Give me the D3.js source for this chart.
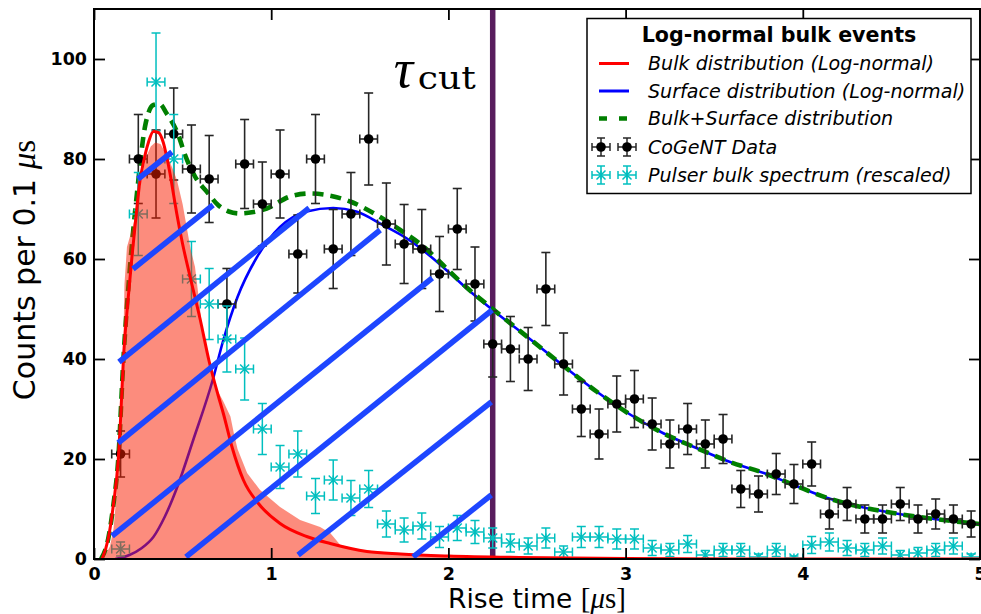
<!DOCTYPE html>
<html>
<head>
<meta charset="utf-8">
<script src="https://cdn.jsdelivr.net/npm/d3@7"></script>
<style>
  html, body { margin: 0; padding: 0; background: #fff; }
  svg { display: block; }
</style>
</head>
<body>
<div id="chart"></div>
<script>
// =========================================================
//  CoGeNT rise-time spectrum — bulk / surface log-normal fit
// =========================================================

// bin centres (rise time, µs) shared by both measured series
const binX = [0.15, 0.25, 0.35, 0.45, 0.55, 0.65, 0.75, 0.85, 0.95, 1.05,
  1.15, 1.25, 1.35, 1.45, 1.55, 1.65, 1.75, 1.85, 1.95, 2.05,
  2.15, 2.25, 2.35, 2.45, 2.55, 2.65, 2.75, 2.85, 2.95, 3.05,
  3.15, 3.25, 3.35, 3.45, 3.55, 3.65, 3.75, 3.85, 3.95, 4.05,
  4.15, 4.25, 4.35, 4.45, 4.55, 4.65, 4.75, 4.85, 4.95];
const binHalf = 0.05;

// CoGeNT data (counts per 0.1 µs) and errors
const cogentY = [21, 80, 77, 85, 78, 76, 51, 79, 71, 77,
  61, 80, 62, 69, 84, 67, 63, 62, 57, 66,
  55, 43, 42, 40, 54, 39, 30, 25, 31, 32,
  27, 23, 26, 23, 24, 14, 13, 17, 15, 19,
  9, 11, 8, 8, 11, 8, 9, 8, 7];
const cogentErr = [4.6, 8.9, 8.8, 9.2, 8.8, 8.7, 7.1, 8.9, 8.4, 8.8,
  7.8, 8.9, 7.9, 8.3, 9.2, 8.2, 7.9, 7.9, 7.5, 8.1,
  7.4, 6.6, 6.5, 6.3, 7.3, 6.2, 5.5, 5.0, 5.6, 5.7,
  5.2, 4.8, 5.1, 4.8, 4.9, 3.7, 3.6, 4.1, 3.9, 4.4,
  3.0, 3.3, 2.8, 2.8, 3.3, 2.8, 3.0, 2.8, 2.6];

// pulser bulk spectrum (rescaled)
const pulserY = [2, 69, 95.4, 80, 56, 51, 44, 38, 26, 18.4,
  21, 12.6, 15.8, 12.2, 14, 7, 5.8, 6.6, 4.4, 6.2,
  5.4, 4.2, 3.2, 2.6, 4.2, 1.4, 4.4, 4.4, 4, 4,
  2.2, 1.8, 3, 0.8, 1.8, 1.8, 0.4, 1.8, 0.2, 2.8,
  3.4, 2.2, 1.8, 2.6, 0.8, 1.2, 1.8, 2.6, 0.4];
const pulserErr = [1.4, 8.3, 9.8, 8.9, 7.5, 7.1, 6.6, 6.2, 5.1, 4.3,
  4.6, 3.5, 4.0, 3.5, 3.7, 2.6, 2.4, 2.6, 2.1, 2.5,
  2.3, 2.0, 1.8, 1.6, 2.0, 1.2, 2.1, 2.1, 2.0, 2.0,
  1.5, 1.3, 1.7, 0.9, 1.3, 1.3, 0.6, 1.3, 0.4, 1.7,
  1.8, 1.5, 1.3, 1.6, 0.9, 1.1, 1.3, 1.6, 0.6];

// bulk log-normal (red)
const bulkX = [0.045, 0.08, 0.11, 0.137, 0.15, 0.166, 0.19, 0.213, 0.235, 0.26,
  0.28, 0.307, 0.335, 0.363, 0.391, 0.41, 0.429, 0.448, 0.467, 0.5,
  0.542, 0.6, 0.65, 0.7, 0.73, 0.778, 0.843, 0.928, 1.05, 1.2,
  1.333, 1.54, 1.73, 2.0, 2.4, 3.0, 4.0, 5.0];
const bulkY = [0, 4, 11, 20, 28, 40, 51, 60, 67.8, 75.8,
  79.5, 83.3, 85.5, 85.3, 83.3, 80.5, 77.1, 73.1, 69.1, 63,
  56.5, 47.8, 39.5, 32.8, 29.1, 22.5, 15.8, 11.1, 7.1, 4.5,
  3.1, 1.5, 1.0, 0.6, 0.3, 0.1, 0, 0];

// surface log-normal (blue)
const surfX = [0.12, 0.2, 0.27, 0.335, 0.4, 0.47, 0.56, 0.67, 0.73, 0.81,
  0.92, 1.05, 1.2, 1.35, 1.48, 1.63, 1.766, 1.9, 2.01, 2.1,
  2.25, 2.46, 2.65, 2.84, 3.03, 3.21, 3.4, 3.59, 3.78, 3.95,
  4.14, 4.33, 4.51, 4.7, 4.89, 5.0];
const surfY = [0, 0.8, 2.2, 4.4, 8.5, 14.4, 23.8, 35.8, 43.8, 52.4,
  60.4, 66.4, 69.5, 70.2, 69.5, 66.8, 64.1, 60.5, 57.1, 54.2,
  49.8, 44.0, 38.6, 33.4, 28.8, 25.2, 22.2, 19.4, 17.2, 14.8,
  12.2, 10.4, 9.2, 8.2, 7.4, 7.0];

// bulk + surface (green dashed)
const totalX = [0.04, 0.08, 0.11, 0.137, 0.166, 0.2, 0.245, 0.288, 0.335, 0.37,
  0.41, 0.476, 0.514, 0.57, 0.645, 0.7, 0.76, 0.824, 0.9, 0.975,
  1.107, 1.22, 1.295, 1.446, 1.596, 1.728, 1.859, 1.99, 2.1, 2.25,
  2.46, 2.65, 2.84, 3.03, 3.21, 3.4, 3.59, 3.78, 3.95, 4.14,
  4.33, 4.51, 4.7, 4.89, 5.0];
const totalY = [0, 4, 11, 20, 40, 57, 74, 86.5, 90.8, 91,
  89.1, 84.8, 80.8, 76.5, 73.1, 70.8, 69.5, 69.1, 69.4, 70.1,
  72.5, 73.1, 72.9, 71.5, 68.8, 65.8, 62.5, 58.1, 54.4, 50,
  44, 38.6, 33.4, 28.8, 25.2, 22.2, 19.4, 17.2, 14.8, 12.2,
  10.4, 9.2, 8.2, 7.4, 7.0];

// shaded bulk band (salmon)
const bandX = [0.03, 0.06, 0.09, 0.11, 0.125, 0.14, 0.155, 0.165, 0.172, 0.186,
  0.215, 0.24, 0.265, 0.29, 0.32, 0.345, 0.375, 0.41, 0.44, 0.468,
  0.5, 0.525, 0.545, 0.57, 0.585, 0.61, 0.645, 0.672, 0.7, 0.73,
  0.77, 0.79, 0.81, 0.864, 0.937, 1.05, 1.163, 1.276, 1.333, 1.39,
  1.5, 1.7, 1.9, 2.1, 2.2];
const bandY = [0, 0.6, 2.5, 6, 12, 22, 32, 42, 55, 62.4,
  66, 69.5, 75.5, 80, 82.5, 83.3, 83, 80.8, 78.4, 75.8,
  71, 66, 62, 58.4, 54, 46.5, 40, 36, 33.5, 31.5,
  28.5, 25, 22, 17.2, 13.8, 10.4, 7.8, 6.4, 5.2, 2.8,
  1.8, 1.2, 0.8, 0.3, 0];

// hatch strokes below tau_cut (start/end in data units)
const hatchX1 = [0.248, 0.220, 0.141, 0.136, 0.102, 0.519, 1.152, 1.801];
const hatchY1 = [76.0, 58.0, 39.4, 23.2, 4.6, 0.4, 0.8, 0.4];
const hatchX2 = [0.440, 0.672, 1.214, 1.615, 1.909, 2.247, 2.242, 2.242];
const hatchY2 = [81.4, 70.8, 70.2, 65.8, 56.2, 49.8, 31.4, 12.8];

const tauCut = 2.25;
const xTicks = [0, 1, 2, 3, 4, 5];
const yTicks = [0, 20, 40, 60, 80, 100];
const legendTitle = 'Log-normal bulk events';
const legendLabels = ['Bulk distribution (Log-normal)', 'Surface distribution (Log-normal)',
  'Bulk+Surface distribution', 'CoGeNT Data', 'Pulser bulk spectrum (rescaled)'];

const W = 981, H = 614;
const m = { t: 9, r: 1, b: 55, l: 94 };
const SANS = 'DejaVu Sans, Verdana, sans-serif';
const SERIF = 'Liberation Serif, DejaVu Serif, serif';
const C_RED = '#ff0000', C_BLUE = '#0000ff', C_GREEN = '#007f00';
const C_CYAN = '#00bfbf', C_HATCH = '#1e46ff', C_TAU = '#581d5d';

const x = d3.scaleLinear().domain([0, 5]).range([m.l, W - m.r]);
const y = d3.scaleLinear().domain([0, 110]).range([H - m.b, m.t]);

const svg = d3.select('#chart').append('svg')
  .attr('width', W).attr('height', H)
  .style('background', '#fff');

svg.append('defs').append('clipPath').attr('id', 'plot-clip')
  .append('rect')
  .attr('x', m.l).attr('y', m.t)
  .attr('width', W - m.l - m.r).attr('height', H - m.t - m.b);

const plot = svg.append('g').attr('clip-path', 'url(#plot-clip)');

const smooth = d3.line().x(d => x(d[0])).y(d => y(d[1])).curve(d3.curveMonotoneX);

// tau_cut marker
plot.append('line')
  .attr('x1', x(tauCut)).attr('x2', x(tauCut))
  .attr('y1', y(0)).attr('y2', y(110))
  .attr('stroke', C_TAU).attr('stroke-width', 5.5);

// surface curve (thin blue)
plot.append('path').datum(d3.zip(surfX, surfY))
  .attr('fill', 'none').attr('stroke', C_BLUE).attr('stroke-width', 2.6)
  .attr('d', smooth);

// total curve (green dashed)
plot.append('path').datum(d3.zip(totalX, totalY))
  .attr('fill', 'none').attr('stroke', C_GREEN).attr('stroke-width', 4.6)
  .attr('stroke-dasharray', '11 7')
  .attr('d', smooth);

// error bars helper
function errorBars(g, ys, es, color, lw, cap) {
  const grp = g.append('g').attr('stroke', color).attr('stroke-width', lw).attr('fill', 'none');
  binX.forEach((bx, i) => {
    const cx = x(bx), cy = y(ys[i]);
    const y0 = y(ys[i] - es[i]), y1 = y(ys[i] + es[i]);
    const x0 = x(bx - binHalf), x1 = x(bx + binHalf);
    grp.append('line').attr('x1', cx).attr('x2', cx).attr('y1', y0).attr('y2', y1);
    grp.append('line').attr('x1', cx - cap).attr('x2', cx + cap).attr('y1', y0).attr('y2', y0);
    grp.append('line').attr('x1', cx - cap).attr('x2', cx + cap).attr('y1', y1).attr('y2', y1);
    grp.append('line').attr('x1', x0).attr('x2', x1).attr('y1', cy).attr('y2', cy);
    grp.append('line').attr('x1', x0).attr('x2', x0).attr('y1', cy - cap).attr('y2', cy + cap);
    grp.append('line').attr('x1', x1).attr('x2', x1).attr('y1', cy - cap).attr('y2', cy + cap);
  });
}

// CoGeNT data
errorBars(plot, cogentY, cogentErr, '#262626', 1.6, 4.5);
plot.append('g').selectAll('circle')
  .data(binX).join('circle')
  .attr('cx', d => x(d))
  .attr('cy', (d, i) => y(cogentY[i]))
  .attr('r', 4.8)
  .attr('fill', '#000');

// pulser spectrum
errorBars(plot, pulserY, pulserErr, C_CYAN, 1.5, 4.5);
const star = (cx, cy, r) => `M${cx - r},${cy - r}L${cx + r},${cy + r}M${cx - r},${cy + r}L${cx + r},${cy - r}M${cx},${cy - r}L${cx},${cy + r}`;
plot.append('g').selectAll('path')
  .data(binX).join('path')
  .attr('d', (d, i) => star(x(d), y(pulserY[i]), 4.5))
  .attr('stroke', C_CYAN).attr('stroke-width', 1.5).attr('fill', 'none');

// shaded bulk band
const band = d3.area()
  .x(d => x(d[0])).y0(y(0)).y1(d => y(d[1]))
  .curve(d3.curveLinear);
plot.append('path').datum(d3.zip(bandX, bandY))
  .attr('fill', 'rgb(250,30,0)').attr('fill-opacity', 0.51)
  .attr('d', band);

// bulk curve (red)
plot.append('path').datum(d3.zip(bulkX, bulkY))
  .attr('fill', 'none').attr('stroke', C_RED).attr('stroke-width', 3)
  .attr('d', smooth);

// hatch strokes
plot.append('g').selectAll('line')
  .data(hatchX1).join('line')
  .attr('x1', d => x(d))
  .attr('y1', (d, i) => y(hatchY1[i]))
  .attr('x2', (d, i) => x(hatchX2[i]))
  .attr('y2', (d, i) => y(hatchY2[i]))
  .attr('stroke', C_HATCH).attr('stroke-width', 5.5);

// tau_cut label
svg.append('text')
  .attr('x', x(tauCut) - 99).attr('y', 87)
  .attr('font-family', SERIF).attr('font-style', 'italic').attr('font-size', 54)
  .attr('fill', '#000')
  .text('τ');
svg.append('text')
  .attr('x', x(tauCut) - 75).attr('y', 89)
  .attr('font-family', 'DejaVu Serif, serif').attr('font-size', 31)
  .attr('textLength', 58).attr('lengthAdjust', 'spacingAndGlyphs')
  .attr('fill', '#000')
  .text('cut');

// axes: inward ticks on all four sides
const tickStyle = g => {
  g.select('.domain').remove();
  g.selectAll('.tick line').attr('stroke', '#000').attr('stroke-width', 1.8);
  g.selectAll('.tick text')
    .attr('font-family', SANS).attr('font-weight', 'bold')
    .attr('font-size', 17.5).attr('fill', '#000');
};
svg.append('g').attr('transform', `translate(0,${y(0)})`)
  .call(d3.axisBottom(x).tickValues(xTicks).tickSize(-11).tickPadding(9).tickFormat(d3.format('d')))
  .call(tickStyle);
svg.append('g').attr('transform', `translate(${x(0)},0)`)
  .call(d3.axisLeft(y).tickValues(yTicks).tickSize(-11).tickPadding(7).tickFormat(d3.format('d')))
  .call(tickStyle);
svg.append('g').attr('transform', `translate(0,${y(110)})`)
  .call(d3.axisTop(x).tickValues(xTicks).tickSize(-11).tickFormat(''))
  .call(tickStyle);
svg.append('g').attr('transform', `translate(${x(5)},0)`)
  .call(d3.axisRight(y).tickValues(yTicks).tickSize(-11).tickFormat(''))
  .call(tickStyle);

// frame
svg.append('rect')
  .attr('x', x(0)).attr('y', y(110))
  .attr('width', x(5) - x(0)).attr('height', y(0) - y(110))
  .attr('fill', 'none').attr('stroke', '#000').attr('stroke-width', 2);

// axis titles
const xLab = svg.append('text')
  .attr('x', (x(0) + x(5)) / 2).attr('y', 608)
  .attr('text-anchor', 'middle')
  .attr('font-family', SANS).attr('font-size', 26.5).attr('fill', '#000');
xLab.append('tspan').text('Rise time ');
xLab.append('tspan').attr('font-family', SERIF).attr('font-size', 29).text('[');
xLab.append('tspan').attr('font-family', SERIF).attr('font-size', 29).attr('font-style', 'italic').text('μ');
xLab.append('tspan').attr('font-family', SERIF).attr('font-size', 29).text('s]');

const yLab = svg.append('text')
  .attr('transform', `translate(35,270) rotate(-90)`)
  .attr('text-anchor', 'middle')
  .attr('font-family', SANS).attr('font-size', 30).attr('fill', '#000');
yLab.append('tspan').text('Counts per 0.1 ');
yLab.append('tspan').attr('font-family', SERIF).attr('font-size', 33).attr('font-style', 'italic').text('μ');
yLab.append('tspan').attr('font-family', SERIF).attr('font-size', 33).text('s');

// legend
const lg = svg.append('g');
lg.append('rect')
  .attr('x', 587).attr('y', 18.5).attr('width', 384).attr('height', 175)
  .attr('fill', '#fff').attr('stroke', '#000').attr('stroke-width', 1.5);
lg.append('text')
  .attr('x', 779).attr('y', 42).attr('text-anchor', 'middle')
  .attr('font-family', SANS).attr('font-weight', 'bold').attr('font-size', 20.6)
  .text(legendTitle);

const rowY = [70, 97.5, 125, 153.5, 181.5];
const hx0 = 599, hx1 = 629;
legendLabels.forEach((label, i) => {
  const cy = rowY[i] - 6.5;
  if (i < 3) {
    const col = [C_RED, C_BLUE, C_GREEN][i];
    lg.append('line')
      .attr('x1', hx0).attr('x2', hx1).attr('y1', cy).attr('y2', cy)
      .attr('stroke', col).attr('stroke-width', i === 2 ? 4.6 : 3)
      .attr('stroke-dasharray', i === 2 ? '8 12' : null);
  } else {
    const col = i === 3 ? '#262626' : C_CYAN;
    [601, 627].forEach(mx => {
      const hg = lg.append('g').attr('stroke', col).attr('stroke-width', 1.5).attr('fill', 'none');
      hg.append('line').attr('x1', mx).attr('x2', mx).attr('y1', cy - 9).attr('y2', cy + 9);
      hg.append('line').attr('x1', mx - 4).attr('x2', mx + 4).attr('y1', cy - 9).attr('y2', cy - 9);
      hg.append('line').attr('x1', mx - 4).attr('x2', mx + 4).attr('y1', cy + 9).attr('y2', cy + 9);
      hg.append('line').attr('x1', mx - 9).attr('x2', mx + 9).attr('y1', cy).attr('y2', cy);
      hg.append('line').attr('x1', mx - 9).attr('x2', mx - 9).attr('y1', cy - 4).attr('y2', cy + 4);
      hg.append('line').attr('x1', mx + 9).attr('x2', mx + 9).attr('y1', cy - 4).attr('y2', cy + 4);
      if (i === 3) {
        lg.append('circle').attr('cx', mx).attr('cy', cy).attr('r', 4.8).attr('fill', '#000');
      } else {
        lg.append('path').attr('d', star(mx, cy, 4.5))
          .attr('stroke', C_CYAN).attr('stroke-width', 1.5).attr('fill', 'none');
      }
    });
  }
  lg.append('text')
    .attr('x', 648).attr('y', rowY[i])
    .attr('font-family', SANS).attr('font-style', 'italic').attr('font-size', 19.1)
    .text(label);
});
</script>
</body>
</html>
